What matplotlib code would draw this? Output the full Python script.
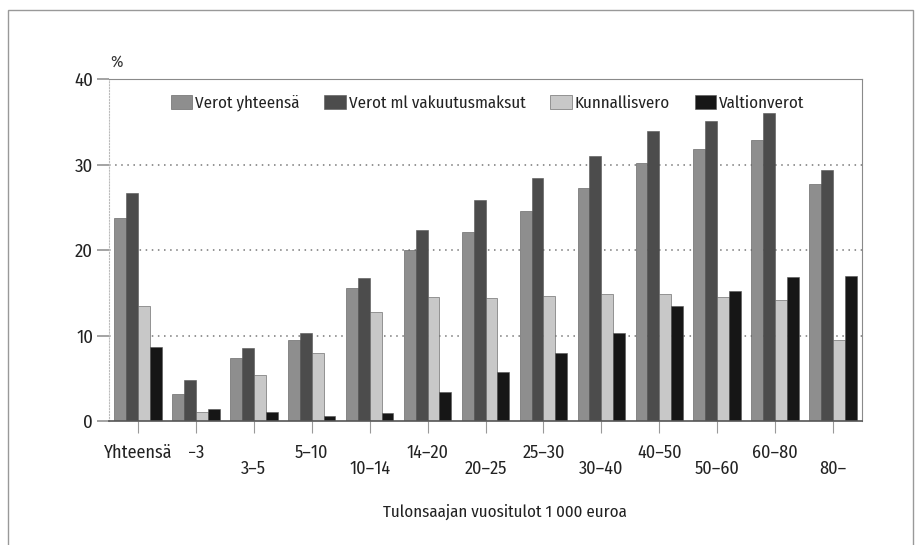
import matplotlib.pyplot as plt
import numpy as np
from matplotlib.patches import Rectangle

plt.rcParams["font.family"] = ["Fira Sans Condensed", "DejaVu Sans"]

groups = ["Yhteensä", "\u22123", "3\u20135", "5\u201310", "10\u201314", "14\u201320",
          "20\u201325", "25\u201330", "30\u201340", "40\u201350", "50\u201360",
          "60\u201380", "80\u2013"]
series = ["Verot yhteensä", "Verot ml vakuutusmaksut", "Kunnallisvero", "Valtionverot"]
verot = [23.8, 3.1, 7.4, 9.5, 15.6, 20.0, 22.1, 24.6, 27.2, 30.2, 31.8, 32.9, 27.7]
verot_ml = [26.7, 4.8, 8.5, 10.3, 16.7, 22.3, 25.8, 28.4, 31.0, 33.9, 35.1, 36.0, 29.4]
kunnallis = [13.4, 1.1, 5.35, 7.9, 12.8, 14.5, 14.4, 14.6, 14.8, 14.8, 14.5, 14.2, 9.5]
valtion = [8.6, 1.4, 1.05, 0.6, 0.9, 3.4, 5.7, 8.0, 10.3, 13.4, 15.2, 16.8, 17.0]
colors = ["#8e8e8e", "#4c4c4c", "#c8c8c8", "#161616"]

fig = plt.figure(figsize=(9.15, 5.45), dpi=100)
ax = fig.add_axes([109 / 915, 1 - 421 / 545, (862 - 109) / 915, (421 - 79) / 545])

x = np.arange(len(groups))
w = 0.205
for i, (vals, name) in enumerate(zip([verot, verot_ml, kunnallis, valtion], series)):
    ax.bar(x + (i - 1.5) * w, vals, w, color=colors[i], edgecolor="#555555",
           linewidth=0.4, label=name, zorder=3)

ax.set_xlim(-0.5, 12.5)
ax.set_ylim(0, 40)
ax.set_yticks([0, 10, 20, 30, 40])
for v in (10, 20, 30):
    ax.axhline(v, color="#777777", lw=1.1, ls=(0, (1, 3)), zorder=1)

ax.spines["top"].set_color("#8a8a8a")
ax.spines["right"].set_color("#8a8a8a")
ax.spines["left"].set_color("#bbbbbb")
ax.spines["left"].set_linestyle(":")
ax.spines["bottom"].set_color("#555555")
ax.spines["bottom"].set_linewidth(1.2)
ax.spines["bottom"].set_zorder(4)

# every other label sits one row lower, as in the original
labels = [g if (i < 2 or i % 2 == 1) else "\n" + g for i, g in enumerate(groups)]
ax.set_xticks(x, labels)
ax.tick_params(axis="x", length=8.5, width=0.8, color="#999999", pad=8,
               labelsize=13, labelcolor="#222222")
ax.tick_params(axis="y", length=8.5, width=1.1, color="#8a8a8a", pad=3,
               labelsize=13.5, labelcolor="#222222")
for t in ax.get_xticklabels():
    t.set_linespacing(0.9)

fig.text(117 / 915, 1 - 62 / 545, "%", ha="center", va="center", fontsize=12,
         color="#333333")

ax.legend(loc="center", bbox_to_anchor=(0.503, 0.93), ncol=4, frameon=False,
          fontsize=12.2, handlelength=1.25, handleheight=0.95, handletextpad=0.2,
          columnspacing=1.45, labelcolor="#222222")

fig.text(505 / 915, 1 - 512 / 545, "Tulonsaajan vuositulot 1 000 euroa",
         ha="center", va="center", fontsize=12.2, color="#222222")

fig.patches.append(Rectangle((8 / 915, -0.1), 905 / 915, 1.1 - 10 / 545,
                             transform=fig.transFigure, fill=False,
                             edgecolor="#999999", lw=1.0))

fig.savefig("out.png", dpi=100)
